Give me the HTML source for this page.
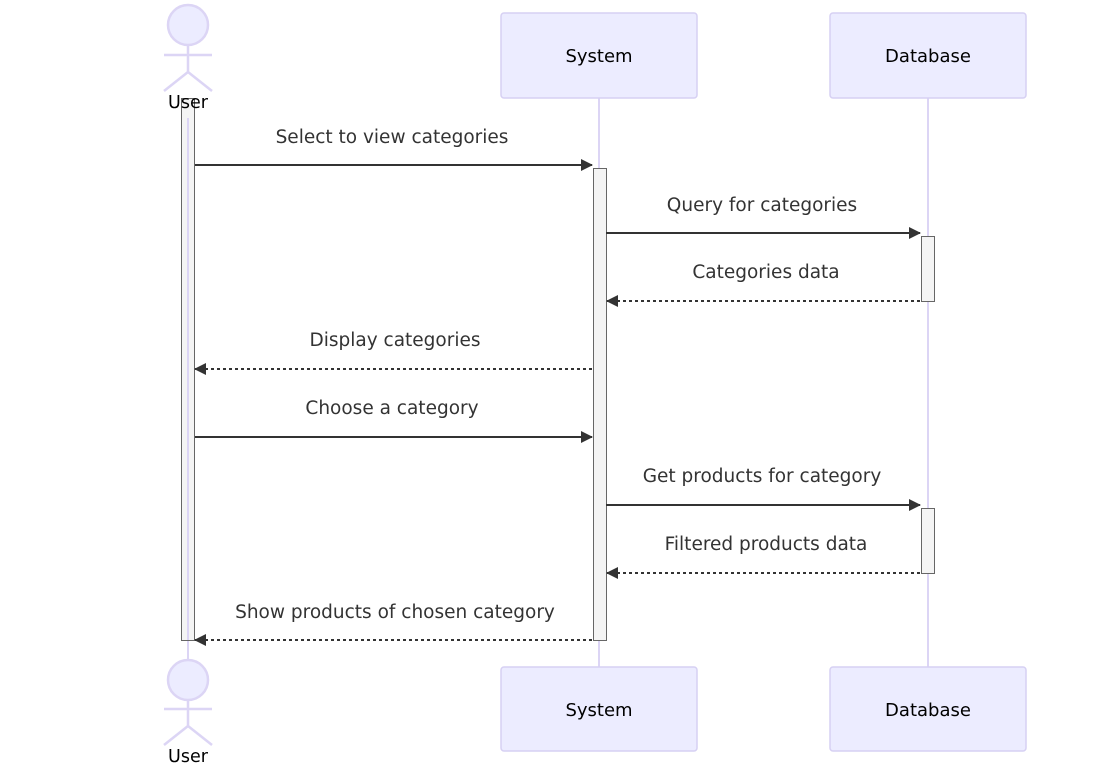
<!DOCTYPE html>
<html><head><meta charset="utf-8"><style>body{margin:0;background:#fff}</style></head><body>
<svg width="1116" height="766" xmlns="http://www.w3.org/2000/svg" font-family="'DejaVu Sans', 'Liberation Sans', sans-serif">
<defs>
<marker id="a" markerWidth="12" markerHeight="12" refX="11" refY="6" orient="auto" markerUnits="userSpaceOnUse"><path d="M0,0 L12,6 L0,12 z" fill="#333"/></marker>
</defs>
<g stroke="#dcd5f5" stroke-width="2" fill="none">
<line x1="188" y1="98" x2="188" y2="660"/>
<line x1="599" y1="98" x2="599" y2="667"/>
<line x1="928" y1="98" x2="928" y2="667"/>
</g>
<g fill="#ececff" stroke="#d6d0f3" stroke-width="1.5">
<rect x="501" y="13" width="196" height="85" rx="3"/>
<rect x="830" y="13" width="196" height="85" rx="3"/>
<rect x="501" y="667" width="196" height="84" rx="3"/>
<rect x="830" y="667" width="196" height="84" rx="3"/>
</g>
<g stroke="#dcd5f5" stroke-width="2.5" fill="#ececff">
<circle cx="188" cy="25" r="20"/>
<line x1="188" y1="45" x2="188" y2="72"/><line x1="164" y1="55" x2="212" y2="55"/>
<line x1="188" y1="72" x2="164" y2="91"/><line x1="188" y1="72" x2="212" y2="91"/>
<circle cx="188" cy="680" r="20"/>
<line x1="188" y1="700" x2="188" y2="726"/><line x1="164" y1="709" x2="212" y2="709"/>
<line x1="188" y1="726" x2="164" y2="745"/><line x1="188" y1="726" x2="212" y2="745"/>
</g>
<g fill="#f4f4f4" stroke="#666" stroke-width="1">
<rect x="181.5" y="98.5" width="13" height="542"/>
<rect x="593.5" y="168.5" width="13" height="472"/>
<rect x="921.5" y="236.5" width="13" height="65"/>
<rect x="921.5" y="508.5" width="13" height="65"/>
</g>
<line x1="188" y1="118" x2="188" y2="640" stroke="#dcd5f5" stroke-width="2"/>
<g font-size="17.5" text-anchor="middle" fill="#000">
<text x="188" y="108">User</text><text x="188" y="762">User</text>
<text x="599" y="62" font-size="18">System</text><text x="928" y="62" font-size="18">Database</text>
<text x="599" y="716" font-size="18">System</text><text x="928" y="716" font-size="18">Database</text>
</g>
<g stroke="#333" stroke-width="2" marker-end="url(#a)">
<line x1="195" y1="165" x2="592" y2="165"/>
<line x1="606" y1="233" x2="920" y2="233"/>
<line x1="920" y1="301" x2="607" y2="301" stroke-dasharray="3,3"/>
<line x1="592" y1="369" x2="195" y2="369" stroke-dasharray="3,3"/>
<line x1="195" y1="437" x2="592" y2="437"/>
<line x1="606" y1="505" x2="920" y2="505"/>
<line x1="920" y1="573" x2="607" y2="573" stroke-dasharray="3,3"/>
<line x1="592" y1="640" x2="195" y2="640" stroke-dasharray="3,3"/>
</g>
<g font-size="18.5" text-anchor="middle" fill="#333">
<text x="392" y="143">Select to view categories</text>
<text x="762" y="211">Query for categories</text>
<text x="766" y="278">Categories data</text>
<text x="395" y="346">Display categories</text>
<text x="392" y="414">Choose a category</text>
<text x="762" y="482">Get products for category</text>
<text x="766" y="550">Filtered products data</text>
<text x="395" y="618">Show products of chosen category</text>
</g>
</svg>
</body></html>
